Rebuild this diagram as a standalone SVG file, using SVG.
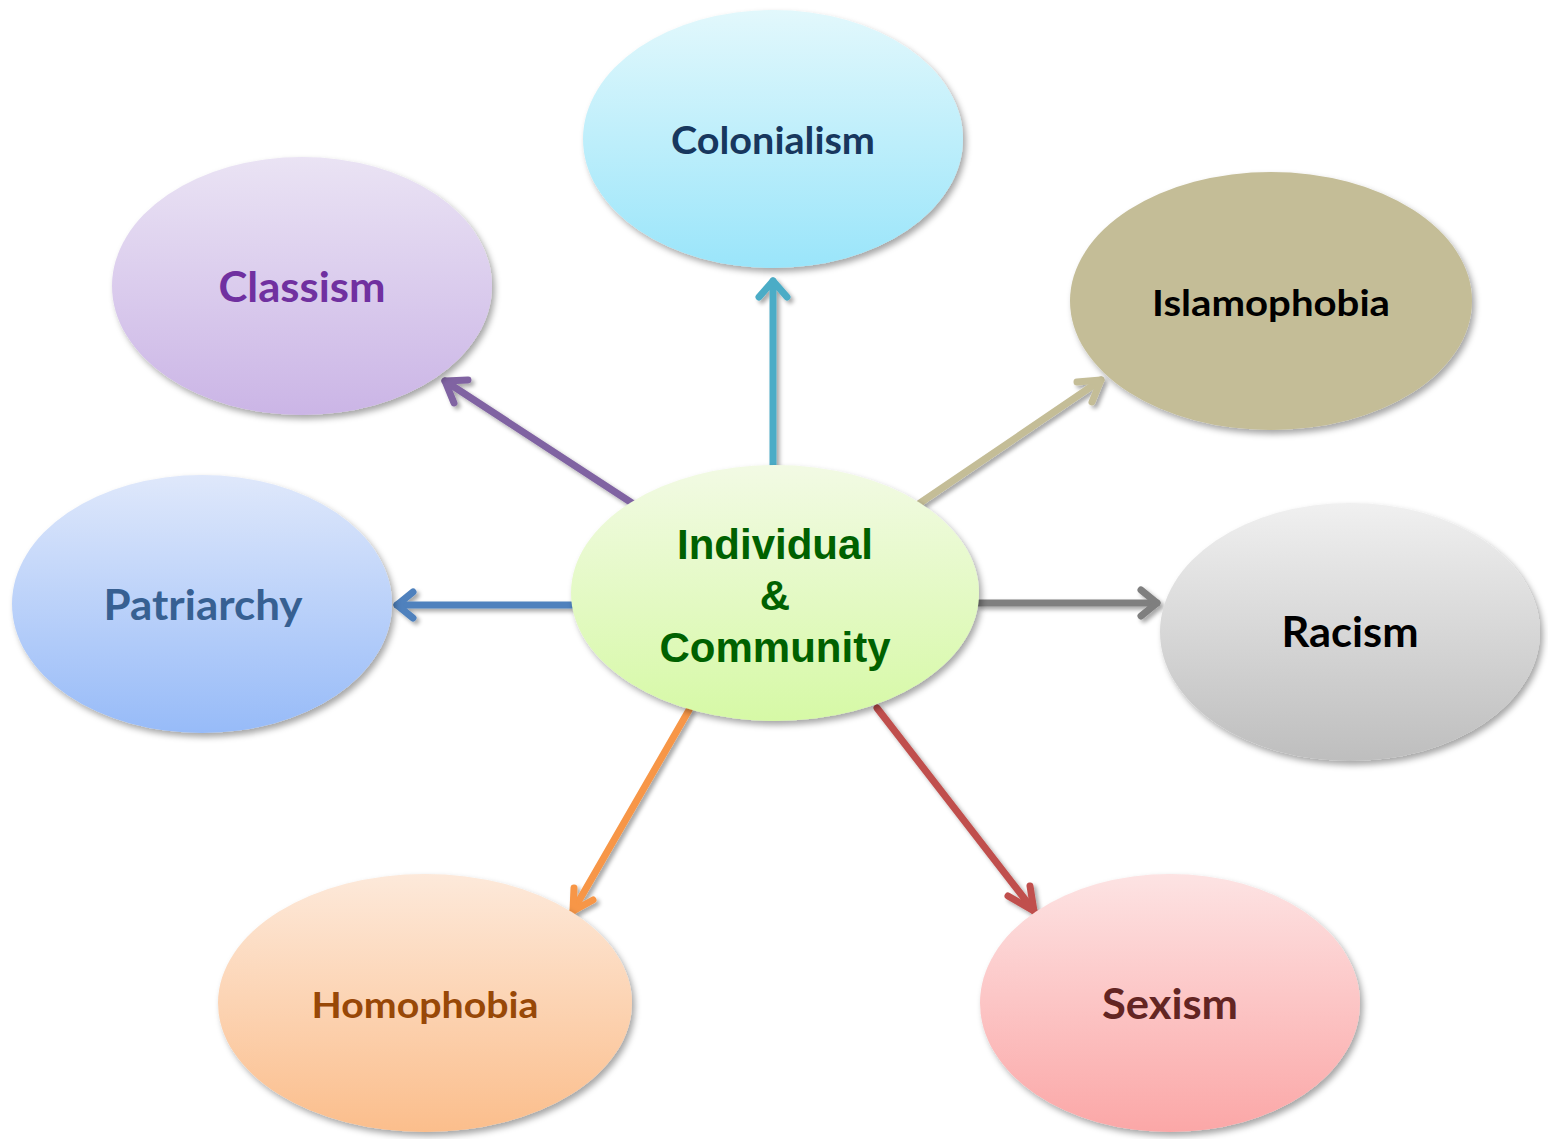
<svg xmlns="http://www.w3.org/2000/svg" width="1548" height="1139" viewBox="0 0 1548 1139">
  <style>
    .lbl { font-family: Lato, "Open Sans", "Liberation Sans", sans-serif; font-weight: bold; text-anchor: middle; }
    .ctr { font-family: "Liberation Sans", Arial, sans-serif; font-weight: bold; text-anchor: middle; fill: #006100; font-size: 42px; }
    .arrow { fill: none; stroke-width: 7; stroke-linecap: round; stroke-linejoin: round; }
  </style>
  <defs>
    <filter id="shadow" x="-10%" y="-10%" width="125%" height="130%">
      <feDropShadow dx="3" dy="4" stdDeviation="3" flood-color="#000" flood-opacity="0.35"/>
    </filter>
    <filter id="lineShadow" x="-20%" y="-20%" width="140%" height="140%">
      <feDropShadow dx="3" dy="3" stdDeviation="2" flood-color="#000" flood-opacity="0.35"/>
    </filter>
    <linearGradient id="gCol" x1="0" y1="0" x2="0" y2="1"><stop offset="0" stop-color="#E2F8FC"/><stop offset="1" stop-color="#9AE5FA"/></linearGradient>
    <linearGradient id="gCla" x1="0" y1="0" x2="0" y2="1"><stop offset="0" stop-color="#EAE3F4"/><stop offset="1" stop-color="#CBB5E6"/></linearGradient>
    <linearGradient id="gPat" x1="0" y1="0" x2="0" y2="1"><stop offset="0" stop-color="#DFE8FB"/><stop offset="1" stop-color="#97BBF8"/></linearGradient>
    <linearGradient id="gCtr" x1="0" y1="0" x2="0" y2="1"><stop offset="0" stop-color="#F2FAE4"/><stop offset="1" stop-color="#D6F9A6"/></linearGradient>
    <linearGradient id="gRac" x1="0" y1="0" x2="0" y2="1"><stop offset="0" stop-color="#F0F0F0"/><stop offset="1" stop-color="#BEBEBE"/></linearGradient>
    <linearGradient id="gHom" x1="0" y1="0" x2="0" y2="1"><stop offset="0" stop-color="#FDE9DA"/><stop offset="1" stop-color="#FBBE8C"/></linearGradient>
    <linearGradient id="gSex" x1="0" y1="0" x2="0" y2="1"><stop offset="0" stop-color="#FDE3E3"/><stop offset="1" stop-color="#FBA7A7"/></linearGradient>
  </defs>
  <rect width="1548" height="1139" fill="#ffffff"/>

  <!-- connectors: straight arrows from the centre outwards -->
  <g id="connectors" filter="url(#lineShadow)">
    <g stroke="#4BACC6" class="arrow"><line x1="773" y1="465" x2="773" y2="281"/><polyline points="759,297 773,281 787,297"/></g>
    <g stroke="#8064A2" class="arrow"><line x1="632" y1="503" x2="445" y2="381"/><polyline points="454,403 445,381 468,380"/></g>
    <g stroke="#C4BD97" class="arrow"><line x1="920" y1="503" x2="1101" y2="380"/><polyline points="1077,382 1101,380 1092,402"/></g>
    <g stroke="#4F81BD" class="arrow"><line x1="573" y1="605" x2="397" y2="605"/><polyline points="413,592 397,605 413,618"/></g>
    <g stroke="#7F7F7F" class="arrow"><line x1="979" y1="603" x2="1157" y2="603"/><polyline points="1141,590 1157,603 1141,616"/></g>
    <g stroke="#F79646" class="arrow"><line x1="689" y1="710" x2="573" y2="911"/><polyline points="574,888 573,911 593,900"/></g>
    <g stroke="#C0504D" class="arrow"><line x1="877" y1="708" x2="1034" y2="911"/><polyline points="1008,896 1034,911 1030,886"/></g>
  </g>

  <g id="colonialism">
    <ellipse cx="773" cy="139" rx="190" ry="129" fill="url(#gCol)" filter="url(#shadow)"/>
    <text class="lbl" x="773" y="154" font-size="38" fill="#17375E" textLength="204" lengthAdjust="spacingAndGlyphs">Colonialism</text>
  </g>
  <g id="classism">
    <ellipse cx="302" cy="286" rx="190" ry="129" fill="url(#gCla)" filter="url(#shadow)"/>
    <text class="lbl" x="302" y="302" font-size="42" fill="#7030A0" textLength="167" lengthAdjust="spacingAndGlyphs">Classism</text>
  </g>
  <g id="islamophobia">
    <ellipse cx="1271" cy="301" rx="201" ry="129" fill="#C4BD97" filter="url(#shadow)"/>
    <text class="lbl" x="1271" y="316" font-size="37" fill="#000000" textLength="238" lengthAdjust="spacingAndGlyphs">Islamophobia</text>
  </g>
  <g id="patriarchy">
    <ellipse cx="202" cy="604" rx="190" ry="129" fill="url(#gPat)" filter="url(#shadow)"/>
    <text class="lbl" x="203" y="620" font-size="42" fill="#376092" textLength="199" lengthAdjust="spacingAndGlyphs">Patriarchy</text>
  </g>
  <g id="racism">
    <ellipse cx="1350" cy="632" rx="190" ry="129" fill="url(#gRac)" filter="url(#shadow)"/>
    <text class="lbl" x="1350" y="647" font-size="42" fill="#000000" textLength="137" lengthAdjust="spacingAndGlyphs">Racism</text>
  </g>
  <g id="homophobia">
    <ellipse cx="425" cy="1003" rx="207" ry="129" fill="url(#gHom)" filter="url(#shadow)"/>
    <text class="lbl" x="425" y="1018" font-size="37" fill="#984807" textLength="227" lengthAdjust="spacingAndGlyphs">Homophobia</text>
  </g>
  <g id="sexism">
    <ellipse cx="1170" cy="1003" rx="190" ry="129" fill="url(#gSex)" filter="url(#shadow)"/>
    <text class="lbl" x="1170" y="1019" font-size="42" fill="#632523" textLength="136" lengthAdjust="spacingAndGlyphs">Sexism</text>
  </g>
  <g id="individual-community">
    <ellipse cx="775" cy="593" rx="204" ry="128" fill="url(#gCtr)" filter="url(#shadow)"/>
    <text class="ctr" x="775" y="559">Individual</text>
    <text class="ctr" x="775" y="610">&amp;</text>
    <text class="ctr" x="775" y="662">Community</text>
  </g>
</svg>
